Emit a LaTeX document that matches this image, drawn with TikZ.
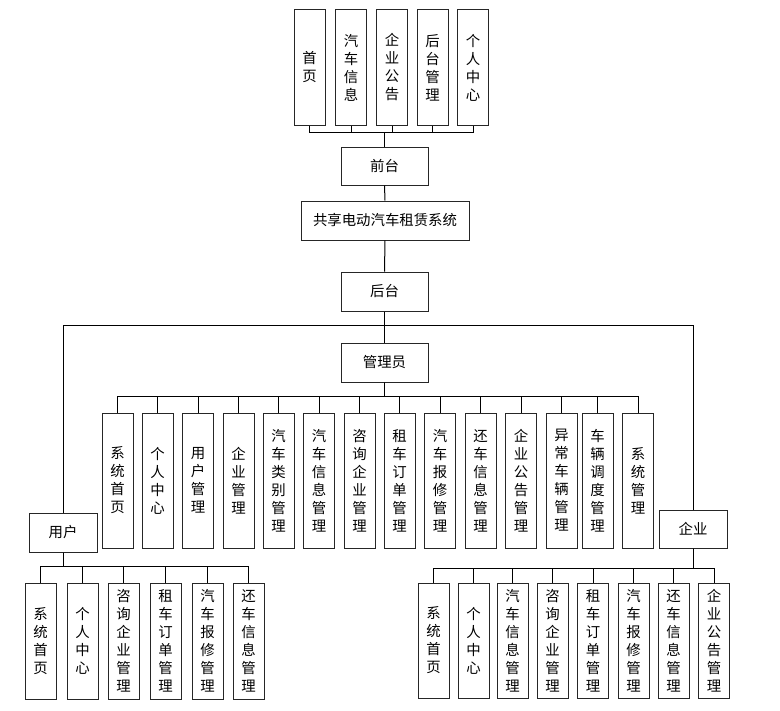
\documentclass[tikz,border=0pt]{standalone}
\usepackage{fontspec}
\setmainfont{Noto Sans CJK SC}

\begin{document}
\begin{tikzpicture}[
    x=0.75pt,
    y=-0.75pt,
    every node/.style={font=\fontsize{10.8pt}{13.5pt}\selectfont},
    hbox/.style={draw=black!85,line width=0.75pt,minimum width=65.25pt,minimum height=28.5pt,inner sep=0pt},
    vbox/.style={draw=black!85,line width=0.75pt,minimum width=23.25pt,inner sep=0pt,align=center},
    link/.style={draw=black,line width=0.75pt}
]

\useasboundingbox (0,0) rectangle (780,710);

% Front end and its pages.
\node[hbox] (qt) at (384.5,166) {前台};
\foreach \x/\t [count=\i] in {309.5/首\\页, 351/汽\\车\\信\\息, 392/企\\业\\公\\告,
    432.5/后\\台\\管\\理, 473/个\\人\\中\\心} {
    \node[vbox,minimum height=86.25pt] (t\i) at (\x,67.5) {\t};
    \draw[link] (qt.north) -- ++(0,-14) -| (t\i.south);
}

% Main chain.
\node[hbox,minimum width=126pt,minimum height=29.25pt] (xt) at (385,220.5) {共享电动汽车租赁系统};
\node[hbox,minimum height=29.25pt] (ht) at (384.5,291.5) {后台};
\node[hbox,minimum height=29.25pt] (gly) at (384.5,362.5) {管理员};
\node[hbox,minimum width=51pt,minimum height=29.25pt] (yh) at (63,532.5) {用户};
\node[hbox,minimum width=51pt,minimum height=28.5pt] (qy) at (693,529) {企业};

\draw[link] (qt.south) -- (xt.north);
\draw[link] (xt.south) -- (ht.north);
\draw[link] (ht.south) -- (gly.north);
\draw[link] (ht.south) -- ++(0,14) -| (yh.north);
\draw[link] (ht.south) -- ++(0,14) -| (qy.north);

% Administrator modules.
\foreach \x/\t [count=\i] in {117.5/系\\统\\首\\页, 157.5/个\\人\\中\\心, 198/用\\户\\管\\理,
    238.5/企\\业\\管\\理, 278.5/汽\\车\\类\\别\\管\\理, 319/汽\\车\\信\\息\\管\\理,
    359.5/咨\\询\\企\\业\\管\\理, 399.5/租\\车\\订\\单\\管\\理, 440/汽\\车\\报\\修\\管\\理,
    480.5/还\\车\\信\\息\\管\\理, 521/企\\业\\公\\告\\管\\理, 561.5/异\\常\\车\\辆\\管\\理,
    597.5/车\\辆\\调\\度\\管\\理, 638/系\\统\\管\\理} {
    \node[vbox,minimum height=101.25pt] (a\i) at (\x,480.5) {\t};
    \draw[link] (gly.south) -- ++(0,14) -| (a\i.north);
}

% User modules.
\foreach \x/\t [count=\i] in {40.5/系\\统\\首\\页, 82.5/个\\人\\中\\心, 123.5/咨\\询\\企\\业\\管\\理,
    165.5/租\\车\\订\\单\\管\\理, 207.5/汽\\车\\报\\修\\管\\理, 248.5/还\\车\\信\\息\\管\\理} {
    \node[vbox,minimum height=87pt] (u\i) at (\x,641) {\t};
    \draw[link] (yh.south) -- ++(0,14) -| (u\i.north);
}

% Enterprise modules.
\foreach \x/\t [count=\i] in {433.5/系\\统\\首\\页, 473.5/个\\人\\中\\心, 512.5/汽\\车\\信\\息\\管\\理,
    552.5/咨\\询\\企\\业\\管\\理, 593/租\\车\\订\\单\\管\\理, 633.5/汽\\车\\报\\修\\管\\理,
    673.5/还\\车\\信\\息\\管\\理, 714/企\\业\\公\\告\\管\\理} {
    \node[vbox,minimum height=86.25pt] (e\i) at (\x,640.5) {\t};
    \draw[link] (qy.south) -- ++(0,20) -| (e\i.north);
}

\end{tikzpicture}
\end{document}
